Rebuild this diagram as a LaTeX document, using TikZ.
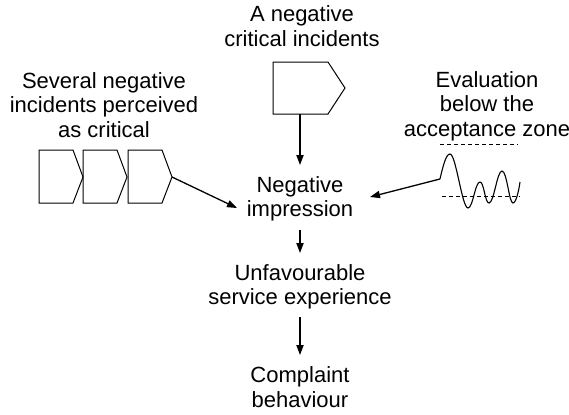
\documentclass[tikz,border=0pt]{standalone}
\usepackage{fontspec}
\setmainfont{Liberation Sans}
\usetikzlibrary{arrows.meta}
\begin{document}
\begin{tikzpicture}[x=0.5pt,y=-0.5pt,
  lbl/.style={align=center,inner sep=0pt,font=\fontsize{11}{12.3}\selectfont},
  shp/.style={draw=black,line width=0.5pt,line join=miter},
  arr/.style={draw=black,line width=0.65pt,-{Triangle[length=5pt,width=3.6pt]}},
  zone/.style={draw=black,line width=0.5pt,dash pattern=on 2pt off 1.5pt}]
\useasboundingbox (0,0) rectangle (569,414);
% text nodes
\node[lbl] (top) at (302,26) {A negative\\critical incidents};
\node[lbl] (several) at (104,105) {Several negative\\incidents perceived\\as critical};
\node[lbl] (eval) at (487,106) {Evaluation\\below the\\acceptance zone};
\node[lbl] (imp) at (300,199) {Negative\\impression};
\node[lbl] (unf) at (300,287) {Unfavourable\\service experience};
\node[lbl] (comp) at (300,387) {Complaint\\behaviour};
% top pentagon
\draw[shp] (273,62) -- (328,62) -- (345,88) -- (328,114) -- (273,114) -- cycle;
\coordinate (pentbot) at (300,114);
% three chevrons
\foreach \L in {39,83,128}{
  \draw[shp] (\L,150) -- ({\L+34},150) -- ({\L+44},177) -- ({\L+34},203) -- (\L,203) -- cycle;
}
\coordinate (chevtip) at (172,177);
% wave with acceptance zone
\coordinate (wavestart) at (440,179);
\draw[zone] (440,144) -- (518,144);
\draw[zone] (442,196) -- (520,196);
\draw[line width=0.55pt] (wavestart)
  .. controls (443,166) and (446,154) .. (450,154)
  .. controls (456,154) and (462,208) .. (468,208)
  .. controls (473,208) and (475,182) .. (480,182)
  .. controls (484,182) and (485,203) .. (489,203)
  .. controls (494,203) and (497,171) .. (502,171)
  .. controls (507,171) and (509,203) .. (513,203)
  .. controls (516,203) and (519,190) .. (520,182);
% connector ends
\coordinate (impT) at (300,165);
\coordinate (impL) at (237,208);
\coordinate (impR) at (370,197);
\coordinate (unfT) at (300,253);
\coordinate (unfB) at (300,317);
\coordinate (compT) at (300,355);
\draw[arr] (pentbot) -- (impT);
\draw[arr] (chevtip) -- (impL);
\draw[arr] (wavestart) -- (impR);
\draw[arr] (imp.south) ++(0,8) -- (unfT);
\draw[arr] (unfB) -- (compT);
\end{tikzpicture}
\end{document}
